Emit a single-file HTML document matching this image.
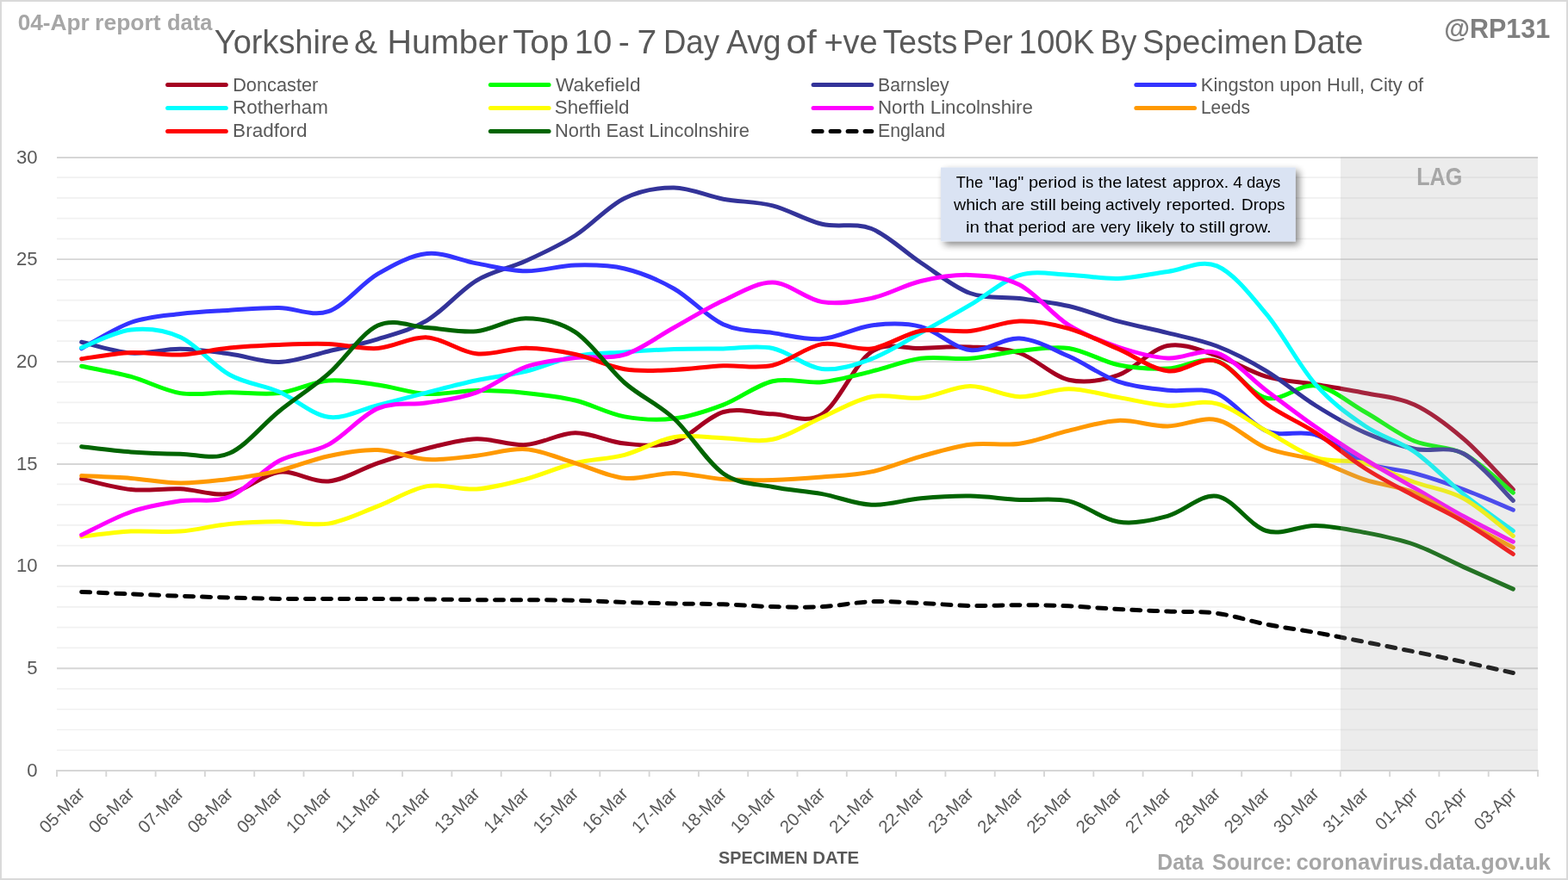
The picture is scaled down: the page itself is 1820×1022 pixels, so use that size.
<!DOCTYPE html>
<html lang="en">
<head>
<meta charset="utf-8">
<title>Yorkshire &amp; Humber Top 10 - 7 Day Avg of +ve Tests Per 100K By Specimen Date</title>
<style>
html,body{margin:0;padding:0;background:#fff;}
body{width:1820px;height:1022px;overflow:hidden;}
svg{display:block;}
svg text{font-family:"Liberation Sans",sans-serif;white-space:pre;}
.s{fill:none;stroke-width:5;stroke-linecap:round;stroke-linejoin:round;}
</style>
</head>
<body>
<svg width="1820" height="1022" viewBox="0 0 1820 1022">
<defs><filter id="sh" filterUnits="userSpaceOnUse" x="1070" y="175" width="470" height="140"><feGaussianBlur in="SourceAlpha" stdDeviation="4"/><feOffset dx="4" dy="4"/><feComponentTransfer><feFuncA type="linear" slope="0.48"/></feComponentTransfer><feMerge><feMergeNode/><feMergeNode in="SourceGraphic"/></feMerge></filter></defs>
<rect x="0" y="0" width="1820" height="1022" fill="#fff"/>
<rect x="1" y="1" width="1818" height="1020" fill="none" stroke="#D9D9D9" stroke-width="2"/>
<path d="M66.0,871.24H1785.0M66.0,847.49H1785.0M66.0,823.73H1785.0M66.0,799.98H1785.0M66.0,752.46H1785.0M66.0,728.71H1785.0M66.0,704.95H1785.0M66.0,681.20H1785.0M66.0,633.68H1785.0M66.0,609.93H1785.0M66.0,586.17H1785.0M66.0,562.42H1785.0M66.0,514.90H1785.0M66.0,491.15H1785.0M66.0,467.39H1785.0M66.0,443.64H1785.0M66.0,396.12H1785.0M66.0,372.37H1785.0M66.0,348.61H1785.0M66.0,324.86H1785.0M66.0,277.34H1785.0M66.0,253.59H1785.0M66.0,229.83H1785.0M66.0,206.08H1785.0" stroke="#F1F1F1" stroke-width="1.7" fill="none"/>
<path d="M66.0,183.00H1785.0M66.0,301.10H1785.0M66.0,420.10H1785.0M66.0,539.00H1785.0M66.0,657.10H1785.0M66.0,776.20H1785.0" stroke="#D6D6D6" stroke-width="1.9" fill="none"/>
<path d="M65.0,895.0H1786.0M66.00,895.0V902.0M123.30,895.0V902.0M180.60,895.0V902.0M237.90,895.0V902.0M295.20,895.0V902.0M352.50,895.0V902.0M409.80,895.0V902.0M467.10,895.0V902.0M524.40,895.0V902.0M581.70,895.0V902.0M639.00,895.0V902.0M696.30,895.0V902.0M753.60,895.0V902.0M810.90,895.0V902.0M868.20,895.0V902.0M925.50,895.0V902.0M982.80,895.0V902.0M1040.10,895.0V902.0M1097.40,895.0V902.0M1154.70,895.0V902.0M1212.00,895.0V902.0M1269.30,895.0V902.0M1326.60,895.0V902.0M1383.90,895.0V902.0M1441.20,895.0V902.0M1498.50,895.0V902.0M1555.80,895.0V902.0M1613.10,895.0V902.0M1670.40,895.0V902.0M1727.70,895.0V902.0M1785.00,895.0V902.0" stroke="#D6D6D6" stroke-width="1.9" fill="none"/>
<g class="s">
<path d="M94.65,556.10C104.20,558.17 132.85,566.55 151.95,568.50C171.05,570.45 190.15,567.00 209.25,567.80C228.35,568.60 247.45,576.55 266.55,573.30C285.65,570.05 304.75,550.68 323.85,548.30C342.95,545.92 362.05,560.75 381.15,559.00C400.25,557.25 419.35,544.18 438.45,537.80C457.55,531.42 476.65,525.37 495.75,520.70C514.85,516.03 533.95,510.48 553.05,509.80C572.15,509.12 591.25,517.77 610.35,516.60C629.45,515.43 648.55,503.05 667.65,502.80C686.75,502.55 705.85,513.32 724.95,515.10C744.05,516.88 763.15,519.60 782.25,513.50C801.35,507.40 820.45,483.95 839.55,478.50C858.65,473.05 877.75,480.38 896.85,480.80C915.95,481.22 935.05,493.02 954.15,481.00C973.25,468.98 992.35,421.45 1011.45,408.70C1030.55,395.95 1049.65,405.45 1068.75,404.50C1087.85,403.55 1106.95,402.08 1126.05,403.00C1145.15,403.92 1164.25,403.63 1183.35,410.00C1202.45,416.37 1221.55,436.93 1240.65,441.20C1259.75,445.47 1278.85,442.22 1297.95,435.60C1317.05,428.98 1336.15,405.23 1355.25,401.50C1374.35,397.77 1393.45,407.22 1412.55,413.20C1431.65,419.18 1450.75,431.85 1469.85,437.40C1488.95,442.95 1508.05,443.32 1527.15,446.50C1546.25,449.68 1565.35,452.58 1584.45,456.50C1603.55,460.42 1622.65,461.10 1641.75,470.00C1660.85,478.90 1679.95,493.48 1699.05,509.90C1718.15,526.32 1746.80,558.73 1756.35,568.50" stroke="#A50021"/>
<path d="M94.65,425.30C104.20,427.32 132.85,432.18 151.95,437.40C171.05,442.62 190.15,453.55 209.25,456.60C228.35,459.65 247.45,455.70 266.55,455.70C285.65,455.70 304.75,458.88 323.85,456.60C342.95,454.32 362.05,443.60 381.15,442.00C400.25,440.40 419.35,444.42 438.45,447.00C457.55,449.58 476.65,456.40 495.75,457.50C514.85,458.60 533.95,453.78 553.05,453.60C572.15,453.42 591.25,454.50 610.35,456.40C629.45,458.30 648.55,460.42 667.65,465.00C686.75,469.58 705.85,480.38 724.95,483.90C744.05,487.42 763.15,488.40 782.25,486.10C801.35,483.80 820.45,477.33 839.55,470.10C858.65,462.87 877.75,447.10 896.85,442.70C915.95,438.30 935.05,445.58 954.15,443.70C973.25,441.82 992.35,435.97 1011.45,431.40C1030.55,426.83 1049.65,418.82 1068.75,416.30C1087.85,413.78 1106.95,417.75 1126.05,416.30C1145.15,414.85 1164.25,409.58 1183.35,407.60C1202.45,405.62 1221.55,401.70 1240.65,404.40C1259.75,407.10 1278.85,419.87 1297.95,423.80C1317.05,427.73 1336.15,428.72 1355.25,428.00C1374.35,427.28 1393.45,413.80 1412.55,419.50C1431.65,425.20 1450.75,457.47 1469.85,462.20C1488.95,466.93 1508.05,445.18 1527.15,447.90C1546.25,450.62 1565.35,467.77 1584.45,478.50C1603.55,489.23 1622.65,504.22 1641.75,512.30C1660.85,520.38 1679.95,517.00 1699.05,527.00C1718.15,537.00 1746.80,564.75 1756.35,572.30" stroke="#00FF00"/>
<path d="M94.65,397.20C104.20,399.33 132.85,408.65 151.95,410.00C171.05,411.35 190.15,405.13 209.25,405.30C228.35,405.47 247.45,408.45 266.55,411.00C285.65,413.55 304.75,421.10 323.85,420.60C342.95,420.10 362.05,412.47 381.15,408.00C400.25,403.53 419.35,399.78 438.45,393.80C457.55,387.82 476.65,383.43 495.75,372.10C514.85,360.77 533.95,337.32 553.05,325.80C572.15,314.28 591.25,311.72 610.35,303.00C629.45,294.28 648.55,285.63 667.65,273.50C686.75,261.37 705.85,239.45 724.95,230.20C744.05,220.95 763.15,217.83 782.25,218.00C801.35,218.17 820.45,227.73 839.55,231.20C858.65,234.67 877.75,233.95 896.85,238.80C915.95,243.65 935.05,255.85 954.15,260.30C973.25,264.75 992.35,258.05 1011.45,265.50C1030.55,272.95 1049.65,292.50 1068.75,305.00C1087.85,317.50 1106.95,333.57 1126.05,340.50C1145.15,347.43 1164.25,344.10 1183.35,346.60C1202.45,349.10 1221.55,351.07 1240.65,355.50C1259.75,359.93 1278.85,368.02 1297.95,373.20C1317.05,378.38 1336.15,381.80 1355.25,386.60C1374.35,391.40 1393.45,394.63 1412.55,402.00C1431.65,409.37 1450.75,419.30 1469.85,430.80C1488.95,442.30 1508.05,459.05 1527.15,471.00C1546.25,482.95 1565.35,494.12 1584.45,502.50C1603.55,510.88 1622.65,517.22 1641.75,521.30C1660.85,525.38 1679.95,516.98 1699.05,527.00C1718.15,537.02 1746.80,572.33 1756.35,581.40" stroke="#333399"/>
<path d="M94.65,404.80C104.20,399.75 132.85,381.22 151.95,374.50C171.05,367.78 190.15,366.87 209.25,364.50C228.35,362.13 247.45,361.47 266.55,360.30C285.65,359.13 304.75,357.27 323.85,357.50C342.95,357.73 362.05,368.25 381.15,361.70C400.25,355.15 419.35,329.38 438.45,318.20C457.55,307.02 476.65,296.65 495.75,294.60C514.85,292.55 533.95,302.53 553.05,305.90C572.15,309.27 591.25,314.45 610.35,314.80C629.45,315.15 648.55,308.47 667.65,308.00C686.75,307.53 705.85,307.47 724.95,312.00C744.05,316.53 763.15,324.42 782.25,335.20C801.35,345.98 820.45,368.13 839.55,376.70C858.65,385.27 877.75,383.78 896.85,386.60C915.95,389.42 935.05,395.05 954.15,393.60C973.25,392.15 992.35,380.27 1011.45,377.90C1030.55,375.53 1049.65,374.62 1068.75,379.40C1087.85,384.18 1106.95,404.33 1126.05,406.60C1145.15,408.87 1164.25,391.80 1183.35,393.00C1202.45,394.20 1221.55,405.45 1240.65,413.80C1259.75,422.15 1278.85,436.53 1297.95,443.10C1317.05,449.67 1336.15,450.88 1355.25,453.20C1374.35,455.52 1393.45,449.12 1412.55,457.00C1431.65,464.88 1450.75,492.50 1469.85,500.50C1488.95,508.50 1508.05,498.83 1527.15,505.00C1546.25,511.17 1565.35,530.07 1584.45,537.50C1603.55,544.93 1622.65,544.43 1641.75,549.60C1660.85,554.77 1679.95,561.40 1699.05,568.50C1718.15,575.60 1746.80,588.25 1756.35,592.20" stroke="#3333FF"/>
<path d="M94.65,403.80C104.20,400.33 132.85,385.05 151.95,383.00C171.05,380.95 190.15,382.78 209.25,391.50C228.35,400.22 247.45,424.72 266.55,435.30C285.65,445.88 304.75,446.83 323.85,455.00C342.95,463.17 362.05,481.70 381.15,484.30C400.25,486.90 419.35,475.35 438.45,470.60C457.55,465.85 476.65,460.60 495.75,455.80C514.85,451.00 533.95,445.88 553.05,441.80C572.15,437.72 591.25,435.98 610.35,431.30C629.45,426.62 648.55,417.43 667.65,413.70C686.75,409.97 705.85,410.27 724.95,408.90C744.05,407.53 763.15,406.17 782.25,405.50C801.35,404.83 820.45,405.07 839.55,404.90C858.65,404.73 877.75,400.57 896.85,404.50C915.95,408.43 935.05,426.45 954.15,428.50C973.25,430.55 992.35,423.80 1011.45,416.80C1030.55,409.80 1049.65,396.93 1068.75,386.50C1087.85,376.07 1106.95,365.35 1126.05,354.20C1145.15,343.05 1164.25,325.43 1183.35,319.60C1202.45,313.77 1221.55,318.57 1240.65,319.20C1259.75,319.83 1278.85,324.02 1297.95,323.40C1317.05,322.78 1336.15,317.92 1355.25,315.50C1374.35,313.08 1393.45,300.70 1412.55,308.90C1431.65,317.10 1450.75,341.73 1469.85,364.70C1488.95,387.67 1508.05,425.02 1527.15,446.70C1546.25,468.38 1565.35,481.82 1584.45,494.80C1603.55,507.78 1622.65,511.37 1641.75,524.60C1660.85,537.83 1679.95,558.87 1699.05,574.20C1718.15,589.53 1746.80,609.53 1756.35,616.60" stroke="#00FFFF"/>
<path d="M94.65,623.20C104.20,622.18 132.85,618.12 151.95,617.10C171.05,616.08 190.15,618.55 209.25,617.10C228.35,615.65 247.45,610.28 266.55,608.40C285.65,606.52 304.75,605.85 323.85,605.80C342.95,605.75 362.05,611.10 381.15,608.10C400.25,605.10 419.35,595.05 438.45,587.80C457.55,580.55 476.65,567.90 495.75,564.60C514.85,561.30 533.95,569.38 553.05,568.00C572.15,566.62 591.25,561.33 610.35,556.30C629.45,551.27 648.55,542.47 667.65,537.80C686.75,533.13 705.85,533.33 724.95,528.30C744.05,523.27 763.15,510.85 782.25,507.60C801.35,504.35 820.45,508.35 839.55,508.80C858.65,509.25 877.75,514.32 896.85,510.30C915.95,506.28 935.05,492.97 954.15,484.70C973.25,476.43 992.35,464.48 1011.45,460.70C1030.55,456.92 1049.65,464.03 1068.75,462.00C1087.85,459.97 1106.95,448.72 1126.05,448.50C1145.15,448.28 1164.25,460.17 1183.35,460.70C1202.45,461.23 1221.55,451.58 1240.65,451.70C1259.75,451.82 1278.85,458.15 1297.95,461.40C1317.05,464.65 1336.15,469.97 1355.25,471.20C1374.35,472.43 1393.45,463.92 1412.55,468.80C1431.65,473.68 1450.75,490.05 1469.85,500.50C1488.95,510.95 1508.05,525.25 1527.15,531.50C1546.25,537.75 1565.35,533.25 1584.45,538.00C1603.55,542.75 1622.65,553.17 1641.75,560.00C1660.85,566.83 1679.95,568.60 1699.05,579.00C1718.15,589.40 1746.80,615.17 1756.35,622.40" stroke="#FFFF00"/>
<path d="M94.65,621.30C104.20,616.83 132.85,601.08 151.95,594.50C171.05,587.92 190.15,584.73 209.25,581.80C228.35,578.87 247.45,584.65 266.55,576.90C285.65,569.15 304.75,545.38 323.85,535.30C342.95,525.22 362.05,526.55 381.15,516.40C400.25,506.25 419.35,482.50 438.45,474.40C457.55,466.30 476.65,470.90 495.75,467.80C514.85,464.70 533.95,462.77 553.05,455.80C572.15,448.83 591.25,432.70 610.35,426.00C629.45,419.30 648.55,417.97 667.65,415.60C686.75,413.23 705.85,417.65 724.95,411.80C744.05,405.95 763.15,390.97 782.25,380.50C801.35,370.03 820.45,357.73 839.55,349.00C858.65,340.27 877.75,327.83 896.85,328.10C915.95,328.37 935.05,347.55 954.15,350.60C973.25,353.65 992.35,350.42 1011.45,346.40C1030.55,342.38 1049.65,331.00 1068.75,326.50C1087.85,322.00 1106.95,318.68 1126.05,319.40C1145.15,320.12 1164.25,321.08 1183.35,330.80C1202.45,340.52 1221.55,365.67 1240.65,377.70C1259.75,389.73 1278.85,396.62 1297.95,403.00C1317.05,409.38 1336.15,414.83 1355.25,416.00C1374.35,417.17 1393.45,403.77 1412.55,410.00C1431.65,416.23 1450.75,439.10 1469.85,453.40C1488.95,467.70 1508.05,482.45 1527.15,495.80C1546.25,509.15 1565.35,521.68 1584.45,533.50C1603.55,545.32 1622.65,555.65 1641.75,566.70C1660.85,577.75 1679.95,589.38 1699.05,599.80C1718.15,610.22 1746.80,624.30 1756.35,629.20" stroke="#FF00FF"/>
<path d="M94.65,552.60C104.20,553.07 132.85,554.00 151.95,555.40C171.05,556.80 190.15,560.85 209.25,561.00C228.35,561.15 247.45,558.70 266.55,556.30C285.65,553.90 304.75,551.03 323.85,546.60C342.95,542.17 362.05,533.70 381.15,529.70C400.25,525.70 419.35,521.95 438.45,522.60C457.55,523.25 476.65,532.50 495.75,533.60C514.85,534.70 533.95,531.18 553.05,529.20C572.15,527.22 591.25,520.27 610.35,521.70C629.45,523.13 648.55,532.20 667.65,537.80C686.75,543.40 705.85,553.37 724.95,555.30C744.05,557.23 763.15,549.18 782.25,549.40C801.35,549.62 820.45,555.25 839.55,556.60C858.65,557.95 877.75,557.92 896.85,557.50C915.95,557.08 935.05,555.70 954.15,554.10C973.25,552.50 992.35,551.90 1011.45,547.90C1030.55,543.90 1049.65,535.38 1068.75,530.10C1087.85,524.82 1106.95,518.68 1126.05,516.20C1145.15,513.72 1164.25,517.88 1183.35,515.20C1202.45,512.52 1221.55,504.57 1240.65,500.10C1259.75,495.63 1278.85,489.25 1297.95,488.40C1317.05,487.55 1336.15,495.10 1355.25,495.00C1374.35,494.90 1393.45,483.58 1412.55,487.80C1431.65,492.02 1450.75,512.52 1469.85,520.30C1488.95,528.08 1508.05,528.35 1527.15,534.50C1546.25,540.65 1565.35,550.90 1584.45,557.20C1603.55,563.50 1622.65,564.25 1641.75,572.30C1660.85,580.35 1679.95,594.90 1699.05,605.50C1718.15,616.10 1746.80,630.83 1756.35,635.90" stroke="#FF9900"/>
<path d="M94.65,416.80C104.20,415.58 132.85,410.30 151.95,409.50C171.05,408.70 190.15,412.93 209.25,412.00C228.35,411.07 247.45,405.83 266.55,403.90C285.65,401.97 304.75,401.13 323.85,400.40C342.95,399.67 362.05,398.82 381.15,399.50C400.25,400.18 419.35,405.77 438.45,404.50C457.55,403.23 476.65,390.85 495.75,391.90C514.85,392.95 533.95,408.75 553.05,410.80C572.15,412.85 591.25,404.10 610.35,404.20C629.45,404.30 648.55,407.30 667.65,411.40C686.75,415.50 705.85,425.78 724.95,428.80C744.05,431.82 763.15,430.17 782.25,429.50C801.35,428.83 820.45,425.67 839.55,424.80C858.65,423.93 877.75,428.50 896.85,424.30C915.95,420.10 935.05,402.83 954.15,399.60C973.25,396.37 992.35,407.47 1011.45,404.90C1030.55,402.33 1049.65,387.62 1068.75,384.20C1087.85,380.78 1106.95,386.25 1126.05,384.40C1145.15,382.55 1164.25,373.57 1183.35,373.10C1202.45,372.63 1221.55,376.23 1240.65,381.60C1259.75,386.97 1278.85,397.10 1297.95,405.30C1317.05,413.50 1336.15,428.43 1355.25,430.80C1374.35,433.17 1393.45,413.13 1412.55,419.50C1431.65,425.87 1450.75,455.18 1469.85,469.00C1488.95,482.82 1508.05,489.90 1527.15,502.40C1546.25,514.90 1565.35,531.72 1584.45,544.00C1603.55,556.28 1622.65,565.77 1641.75,576.10C1660.85,586.43 1679.95,594.77 1699.05,606.00C1718.15,617.23 1746.80,637.25 1756.35,643.50" stroke="#FF0000"/>
<path d="M94.65,518.70C104.20,519.73 132.85,523.48 151.95,524.90C171.05,526.32 190.15,526.97 209.25,527.20C228.35,527.43 247.45,534.55 266.55,526.30C285.65,518.05 304.75,493.05 323.85,477.70C342.95,462.35 362.05,450.80 381.15,434.20C400.25,417.60 419.35,387.03 438.45,378.10C457.55,369.17 476.65,379.50 495.75,380.60C514.85,381.70 533.95,386.50 553.05,384.70C572.15,382.90 591.25,369.63 610.35,369.80C629.45,369.97 648.55,373.25 667.65,385.70C686.75,398.15 705.85,427.78 724.95,444.50C744.05,461.22 763.15,468.42 782.25,486.00C801.35,503.58 820.45,536.75 839.55,550.00C858.65,563.25 877.75,561.57 896.85,565.50C915.95,569.43 935.05,570.13 954.15,573.60C973.25,577.07 992.35,585.45 1011.45,586.30C1030.55,587.15 1049.65,580.40 1068.75,578.70C1087.85,577.00 1106.95,575.82 1126.05,576.10C1145.15,576.38 1164.25,579.43 1183.35,580.40C1202.45,581.37 1221.55,577.63 1240.65,581.90C1259.75,586.17 1278.85,603.10 1297.95,606.00C1317.05,608.90 1336.15,604.25 1355.25,599.30C1374.35,594.35 1393.45,573.43 1412.55,576.30C1431.65,579.17 1450.75,610.82 1469.85,616.50C1488.95,622.18 1508.05,610.07 1527.15,610.40C1546.25,610.73 1565.35,614.82 1584.45,618.50C1603.55,622.18 1622.65,625.82 1641.75,632.50C1660.85,639.18 1679.95,650.00 1699.05,658.60C1718.15,667.20 1746.80,679.85 1756.35,684.10" stroke="#006400"/>
<path d="M94.65,687.40C104.20,687.82 132.85,689.10 151.95,689.90C171.05,690.70 190.15,691.50 209.25,692.20C228.35,692.90 247.45,693.57 266.55,694.10C285.65,694.63 304.75,695.15 323.85,695.40C342.95,695.65 362.05,695.57 381.15,695.60C400.25,695.63 419.35,695.55 438.45,695.60C457.55,695.65 476.65,695.72 495.75,695.90C514.85,696.08 533.95,696.57 553.05,696.70C572.15,696.83 591.25,696.60 610.35,696.70C629.45,696.80 648.55,696.83 667.65,697.30C686.75,697.77 705.85,698.88 724.95,699.50C744.05,700.12 763.15,700.62 782.25,701.00C801.35,701.38 820.45,701.20 839.55,701.80C858.65,702.40 877.75,704.13 896.85,704.60C915.95,705.07 935.05,705.58 954.15,704.60C973.25,703.62 992.35,699.40 1011.45,698.70C1030.55,698.00 1049.65,699.60 1068.75,700.40C1087.85,701.20 1106.95,703.12 1126.05,703.50C1145.15,703.88 1164.25,702.65 1183.35,702.70C1202.45,702.75 1221.55,703.00 1240.65,703.80C1259.75,704.60 1278.85,706.47 1297.95,707.50C1317.05,708.53 1336.15,709.20 1355.25,710.00C1374.35,710.80 1393.45,709.78 1412.55,712.30C1431.65,714.82 1450.75,721.38 1469.85,725.10C1488.95,728.82 1508.05,731.18 1527.15,734.60C1546.25,738.02 1565.35,741.88 1584.45,745.60C1603.55,749.32 1622.65,753.03 1641.75,756.90C1660.85,760.77 1679.95,764.70 1699.05,768.80C1718.15,772.90 1746.80,779.38 1756.35,781.50" stroke="#000000" stroke-dasharray="10 10"/>
</g>
<rect x="1556" y="182" width="229" height="713" fill="#A6A6A6" fill-opacity="0.215"/>
<g class="s">
<path d="M194.6,98.6H262.30" stroke="#A50021"/>
<path d="M569.35,98.6H637.05" stroke="#00FF00"/>
<path d="M944.1,98.6H1011.80" stroke="#333399"/>
<path d="M1318.85,98.6H1386.55" stroke="#3333FF"/>
<path d="M194.6,125.4H262.30" stroke="#00FFFF"/>
<path d="M569.35,125.4H637.05" stroke="#FFFF00"/>
<path d="M944.1,125.4H1011.80" stroke="#FF00FF"/>
<path d="M1318.85,125.4H1386.55" stroke="#FF9900"/>
<path d="M194.6,152.4H262.30" stroke="#FF0000"/>
<path d="M569.35,152.4H637.05" stroke="#006400"/>
<path d="M944.1,152.4H1011.80" stroke="#000000" stroke-dasharray="10 10"/>
</g>
<rect x="1092.1" y="194.5" width="411.7" height="85.8" fill="#DAE3F3" filter="url(#sh)"/>
<text x="1676.17" y="43.70" font-size="32" font-weight="bold" fill="#7F7F7F" textLength="123.03" lengthAdjust="spacingAndGlyphs">@RP131</text>
<text x="270.16" y="106.00" font-size="21.8" fill="#595959" textLength="99.13" lengthAdjust="spacingAndGlyphs">Doncaster</text>
<text x="645.10" y="106.00" font-size="21.8" fill="#595959" textLength="98.37" lengthAdjust="spacingAndGlyphs">Wakefield</text>
<text x="1019.00" y="106.00" font-size="21.8" fill="#595959" textLength="82.62" lengthAdjust="spacingAndGlyphs">Barnsley</text>
<text x="1393.85" y="106.00" font-size="21.8" fill="#595959" textLength="258.35" lengthAdjust="spacingAndGlyphs">Kingston upon Hull, City of</text>
<text x="270.11" y="132.30" font-size="21.8" fill="#595959" textLength="110.69" lengthAdjust="spacingAndGlyphs">Rotherham</text>
<text x="643.76" y="132.30" font-size="21.8" fill="#595959" textLength="86.59" lengthAdjust="spacingAndGlyphs">Sheffield</text>
<text x="1018.91" y="132.30" font-size="21.8" fill="#595959" textLength="179.97" lengthAdjust="spacingAndGlyphs">North Lincolnshire</text>
<text x="1393.93" y="132.30" font-size="21.8" fill="#595959" textLength="57.01" lengthAdjust="spacingAndGlyphs">Leeds</text>
<text x="270.09" y="158.60" font-size="21.8" fill="#595959" textLength="86.56" lengthAdjust="spacingAndGlyphs">Bradford</text>
<text x="643.95" y="158.60" font-size="21.8" fill="#595959" textLength="226.09" lengthAdjust="spacingAndGlyphs">North East Lincolnshire</text>
<text x="1019.00" y="158.60" font-size="21.8" fill="#595959" textLength="78.09" lengthAdjust="spacingAndGlyphs">England</text>
<text x="1644.19" y="215.40" font-size="29.5" font-weight="bold" fill="#A6A6A6" textLength="53.09" lengthAdjust="spacingAndGlyphs">LAG</text>
<text y="61.90" font-size="39.6" fill="#595959"><tspan x="248.84" textLength="156.83" lengthAdjust="spacingAndGlyphs">Yorkshire</tspan> <tspan x="410.97" textLength="27.12" lengthAdjust="spacingAndGlyphs">&amp;</tspan> <tspan x="449.54" textLength="140.32" lengthAdjust="spacingAndGlyphs">Humber</tspan> <tspan x="595.30" textLength="64.71" lengthAdjust="spacingAndGlyphs">Top</tspan> <tspan x="666.67" textLength="43.50" lengthAdjust="spacingAndGlyphs">10</tspan> <tspan x="717.63" textLength="13.05" lengthAdjust="spacingAndGlyphs">-</tspan> <tspan x="739.55" textLength="22.76" lengthAdjust="spacingAndGlyphs">7</tspan> <tspan x="769.98" textLength="64.97" lengthAdjust="spacingAndGlyphs">Day</tspan> <tspan x="842.90" textLength="63.74" lengthAdjust="spacingAndGlyphs">Avg</tspan> <tspan x="912.40" textLength="35.34" lengthAdjust="spacingAndGlyphs">of</tspan> <tspan x="956.38" textLength="62.35" lengthAdjust="spacingAndGlyphs">+ve</tspan> <tspan x="1024.66" textLength="86.81" lengthAdjust="spacingAndGlyphs">Tests</tspan> <tspan x="1117.09" textLength="58.52" lengthAdjust="spacingAndGlyphs">Per</tspan> <tspan x="1182.60" textLength="87.69" lengthAdjust="spacingAndGlyphs">100K</tspan> <tspan x="1277.20" textLength="42.26" lengthAdjust="spacingAndGlyphs">By</tspan> <tspan x="1326.03" textLength="168.30" lengthAdjust="spacingAndGlyphs">Specimen</tspan> <tspan x="1500.39" textLength="82.05" lengthAdjust="spacingAndGlyphs">Date</tspan></text>
<text y="217.80" font-size="18.2" fill="#000"><tspan x="1109.73" textLength="31.46" lengthAdjust="spacingAndGlyphs">The</tspan> <tspan x="1147.71" textLength="40.58" lengthAdjust="spacingAndGlyphs">"lag"</tspan> <tspan x="1194.00" textLength="55.50" lengthAdjust="spacingAndGlyphs">period</tspan> <tspan x="1255.89" textLength="13.40" lengthAdjust="spacingAndGlyphs">is</tspan> <tspan x="1274.70" textLength="27.49" lengthAdjust="spacingAndGlyphs">the</tspan> <tspan x="1307.03" textLength="46.67" lengthAdjust="spacingAndGlyphs">latest</tspan> <tspan x="1361.02" textLength="65.25" lengthAdjust="spacingAndGlyphs">approx.</tspan> <tspan x="1431.31" textLength="10.79" lengthAdjust="spacingAndGlyphs">4</tspan> <tspan x="1447.06" textLength="39.14" lengthAdjust="spacingAndGlyphs">days</tspan></text>
<text y="243.60" font-size="18.2" fill="#000"><tspan x="1107.00" textLength="50.11" lengthAdjust="spacingAndGlyphs">which</tspan> <tspan x="1162.15" textLength="26.99" lengthAdjust="spacingAndGlyphs">are</tspan> <tspan x="1195.76" textLength="30.29" lengthAdjust="spacingAndGlyphs">still</tspan> <tspan x="1231.04" textLength="47.14" lengthAdjust="spacingAndGlyphs">being</tspan> <tspan x="1283.03" textLength="64.05" lengthAdjust="spacingAndGlyphs">actively</tspan> <tspan x="1353.60" textLength="79.95" lengthAdjust="spacingAndGlyphs">reported.</tspan> <tspan x="1440.99" textLength="50.41" lengthAdjust="spacingAndGlyphs">Drops</tspan></text>
<text y="269.60" font-size="18.2" fill="#000"><tspan x="1121.07" textLength="15.92" lengthAdjust="spacingAndGlyphs">in</tspan> <tspan x="1142.29" textLength="34.07" lengthAdjust="spacingAndGlyphs">that</tspan> <tspan x="1181.90" textLength="55.50" lengthAdjust="spacingAndGlyphs">period</tspan> <tspan x="1244.05" textLength="26.99" lengthAdjust="spacingAndGlyphs">are</tspan> <tspan x="1277.40" textLength="34.67" lengthAdjust="spacingAndGlyphs">very</tspan> <tspan x="1319.02" textLength="43.74" lengthAdjust="spacingAndGlyphs">likely</tspan> <tspan x="1369.79" textLength="17.22" lengthAdjust="spacingAndGlyphs">to</tspan> <tspan x="1391.86" textLength="30.50" lengthAdjust="spacingAndGlyphs">still</tspan> <tspan x="1426.68" textLength="49.18" lengthAdjust="spacingAndGlyphs">grow.</tspan></text>
<text y="35.00" font-size="25.2" font-weight="bold" fill="#A6A6A6"><tspan x="20.65" textLength="83.15" lengthAdjust="spacingAndGlyphs">04-Apr</tspan> <tspan x="110.11" textLength="76.54" lengthAdjust="spacingAndGlyphs">report</tspan> <tspan x="193.98" textLength="52.32" lengthAdjust="spacingAndGlyphs">data</tspan></text>
<text y="1010.00" font-size="26" font-weight="bold" fill="#A6A6A6"><tspan x="1343.31" textLength="53.68" lengthAdjust="spacingAndGlyphs">Data</tspan> <tspan x="1407.11" textLength="92.36" lengthAdjust="spacingAndGlyphs">Source:</tspan> <tspan x="1504.47" textLength="295.44" lengthAdjust="spacingAndGlyphs">coronavirus.data.gov.uk</tspan></text>
<text y="1002.70" font-size="21" font-weight="bold" fill="#595959"><tspan x="834.01" textLength="103.55" lengthAdjust="spacingAndGlyphs">SPECIMEN</tspan> <tspan x="943.28" textLength="53.90" lengthAdjust="spacingAndGlyphs">DATE</tspan></text>
<text x="43.6" y="189.70" font-size="21.6" fill="#595959" text-anchor="end" textLength="24.60" lengthAdjust="spacingAndGlyphs">30</text>
<text x="43.6" y="307.80" font-size="21.6" fill="#595959" text-anchor="end" textLength="24.60" lengthAdjust="spacingAndGlyphs">25</text>
<text x="43.6" y="426.80" font-size="21.6" fill="#595959" text-anchor="end" textLength="24.60" lengthAdjust="spacingAndGlyphs">20</text>
<text x="43.6" y="545.70" font-size="21.6" fill="#595959" text-anchor="end" textLength="24.60" lengthAdjust="spacingAndGlyphs">15</text>
<text x="43.6" y="663.80" font-size="21.6" fill="#595959" text-anchor="end" textLength="24.60" lengthAdjust="spacingAndGlyphs">10</text>
<text x="43.6" y="782.90" font-size="21.6" fill="#595959" text-anchor="end" textLength="12.30" lengthAdjust="spacingAndGlyphs">5</text>
<text x="43.6" y="901.70" font-size="21.6" fill="#595959" text-anchor="end" textLength="12.30" lengthAdjust="spacingAndGlyphs">0</text>
<text transform="translate(99.65,923.00) rotate(-45)" font-size="20.5" fill="#595959" text-anchor="end" textLength="64.60" lengthAdjust="spacingAndGlyphs">05-Mar</text>
<text transform="translate(156.95,923.00) rotate(-45)" font-size="20.5" fill="#595959" text-anchor="end" textLength="64.60" lengthAdjust="spacingAndGlyphs">06-Mar</text>
<text transform="translate(214.25,923.00) rotate(-45)" font-size="20.5" fill="#595959" text-anchor="end" textLength="64.60" lengthAdjust="spacingAndGlyphs">07-Mar</text>
<text transform="translate(271.55,923.00) rotate(-45)" font-size="20.5" fill="#595959" text-anchor="end" textLength="64.60" lengthAdjust="spacingAndGlyphs">08-Mar</text>
<text transform="translate(328.85,923.00) rotate(-45)" font-size="20.5" fill="#595959" text-anchor="end" textLength="64.60" lengthAdjust="spacingAndGlyphs">09-Mar</text>
<text transform="translate(386.15,923.00) rotate(-45)" font-size="20.5" fill="#595959" text-anchor="end" textLength="64.60" lengthAdjust="spacingAndGlyphs">10-Mar</text>
<text transform="translate(443.45,923.00) rotate(-45)" font-size="20.5" fill="#595959" text-anchor="end" textLength="64.60" lengthAdjust="spacingAndGlyphs">11-Mar</text>
<text transform="translate(500.75,923.00) rotate(-45)" font-size="20.5" fill="#595959" text-anchor="end" textLength="64.60" lengthAdjust="spacingAndGlyphs">12-Mar</text>
<text transform="translate(558.05,923.00) rotate(-45)" font-size="20.5" fill="#595959" text-anchor="end" textLength="64.60" lengthAdjust="spacingAndGlyphs">13-Mar</text>
<text transform="translate(615.35,923.00) rotate(-45)" font-size="20.5" fill="#595959" text-anchor="end" textLength="64.60" lengthAdjust="spacingAndGlyphs">14-Mar</text>
<text transform="translate(672.65,923.00) rotate(-45)" font-size="20.5" fill="#595959" text-anchor="end" textLength="64.60" lengthAdjust="spacingAndGlyphs">15-Mar</text>
<text transform="translate(729.95,923.00) rotate(-45)" font-size="20.5" fill="#595959" text-anchor="end" textLength="64.60" lengthAdjust="spacingAndGlyphs">16-Mar</text>
<text transform="translate(787.25,923.00) rotate(-45)" font-size="20.5" fill="#595959" text-anchor="end" textLength="64.60" lengthAdjust="spacingAndGlyphs">17-Mar</text>
<text transform="translate(844.55,923.00) rotate(-45)" font-size="20.5" fill="#595959" text-anchor="end" textLength="64.60" lengthAdjust="spacingAndGlyphs">18-Mar</text>
<text transform="translate(901.85,923.00) rotate(-45)" font-size="20.5" fill="#595959" text-anchor="end" textLength="64.60" lengthAdjust="spacingAndGlyphs">19-Mar</text>
<text transform="translate(959.15,923.00) rotate(-45)" font-size="20.5" fill="#595959" text-anchor="end" textLength="64.60" lengthAdjust="spacingAndGlyphs">20-Mar</text>
<text transform="translate(1016.45,923.00) rotate(-45)" font-size="20.5" fill="#595959" text-anchor="end" textLength="64.60" lengthAdjust="spacingAndGlyphs">21-Mar</text>
<text transform="translate(1073.75,923.00) rotate(-45)" font-size="20.5" fill="#595959" text-anchor="end" textLength="64.60" lengthAdjust="spacingAndGlyphs">22-Mar</text>
<text transform="translate(1131.05,923.00) rotate(-45)" font-size="20.5" fill="#595959" text-anchor="end" textLength="64.60" lengthAdjust="spacingAndGlyphs">23-Mar</text>
<text transform="translate(1188.35,923.00) rotate(-45)" font-size="20.5" fill="#595959" text-anchor="end" textLength="64.60" lengthAdjust="spacingAndGlyphs">24-Mar</text>
<text transform="translate(1245.65,923.00) rotate(-45)" font-size="20.5" fill="#595959" text-anchor="end" textLength="64.60" lengthAdjust="spacingAndGlyphs">25-Mar</text>
<text transform="translate(1302.95,923.00) rotate(-45)" font-size="20.5" fill="#595959" text-anchor="end" textLength="64.60" lengthAdjust="spacingAndGlyphs">26-Mar</text>
<text transform="translate(1360.25,923.00) rotate(-45)" font-size="20.5" fill="#595959" text-anchor="end" textLength="64.60" lengthAdjust="spacingAndGlyphs">27-Mar</text>
<text transform="translate(1417.55,923.00) rotate(-45)" font-size="20.5" fill="#595959" text-anchor="end" textLength="64.60" lengthAdjust="spacingAndGlyphs">28-Mar</text>
<text transform="translate(1474.85,923.00) rotate(-45)" font-size="20.5" fill="#595959" text-anchor="end" textLength="64.60" lengthAdjust="spacingAndGlyphs">29-Mar</text>
<text transform="translate(1532.15,923.00) rotate(-45)" font-size="20.5" fill="#595959" text-anchor="end" textLength="64.60" lengthAdjust="spacingAndGlyphs">30-Mar</text>
<text transform="translate(1589.45,923.00) rotate(-45)" font-size="20.5" fill="#595959" text-anchor="end" textLength="64.60" lengthAdjust="spacingAndGlyphs">31-Mar</text>
<text transform="translate(1646.75,923.00) rotate(-45)" font-size="20.5" fill="#595959" text-anchor="end" textLength="59.63" lengthAdjust="spacingAndGlyphs">01-Apr</text>
<text transform="translate(1704.05,923.00) rotate(-45)" font-size="20.5" fill="#595959" text-anchor="end" textLength="59.63" lengthAdjust="spacingAndGlyphs">02-Apr</text>
<text transform="translate(1761.35,923.00) rotate(-45)" font-size="20.5" fill="#595959" text-anchor="end" textLength="59.63" lengthAdjust="spacingAndGlyphs">03-Apr</text>
</svg>
</body>
</html>
